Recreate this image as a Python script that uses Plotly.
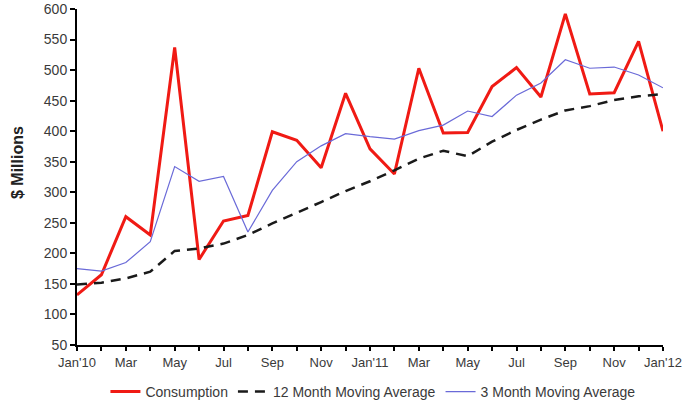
import plotly.graph_objects as go

# Monthly tick labels, Jan 2010 through Jan 2012
month_labels = ["Jan'10", "Feb", "Mar", "Apr", "May", "Jun", "Jul", "Aug", "Sep", "Oct", "Nov", "Dec",
                "Jan'11", "Feb", "Mar", "Apr", "May", "Jun", "Jul", "Aug", "Sep", "Oct", "Nov", "Dec",
                "Jan'12"]
month_index = list(range(len(month_labels)))

# Series values ($ millions)
consumption = [132, 165, 260, 230, 537, 190, 253, 262, 399, 385, 340, 462,
               371, 330, 503, 397, 398, 473, 504, 456, 592, 461, 463, 547, 400]
ma_12 = [149, 152, 159, 170, 204, 208, 216, 230, 249, 266, 284, 302,
         318, 336, 355, 368, 359, 383, 402, 419, 434, 441, 451, 457, 461]
ma_3 = [175, 171, 185, 219, 342, 318, 326, 235, 303, 350, 376, 396,
        391, 387, 401, 410, 433, 424, 459, 479, 517, 503, 505, 492, 471]

y_ticks = list(range(50, 601, 50))
# label every other month, keep a tick mark on each month
tick_text = [lab if i % 2 == 0 else "" for i, lab in enumerate(month_labels)]

font_family = "Liberation Sans, Arial, sans-serif"
text_color = "#3a3a3a"

W, H = 697, 405
M_L, M_R, M_T, M_B = 77, 34, 9, 60
plot_h = H - M_T - M_B

fig = go.Figure()
fig.add_trace(go.Scatter(
    x=month_index, y=consumption, mode="lines", name="Consumption",
    line=dict(color="#f01a14", width=3),
))
fig.add_trace(go.Scatter(
    x=month_index, y=ma_12, mode="lines", name="12 Month Moving Average",
    line=dict(color="#1a1a1a", width=2.5, dash="10px,7px"),
))
fig.add_trace(go.Scatter(
    x=month_index, y=ma_3, mode="lines", name="3 Month Moving Average",
    line=dict(color="#6a6ad8", width=1.2),
))

fig.update_layout(
    width=W, height=H,
    margin=dict(l=M_L, r=M_R, t=M_T, b=M_B, autoexpand=False),
    paper_bgcolor="white", plot_bgcolor="white",
    font=dict(family=font_family, size=13, color=text_color),
    showlegend=True,
    legend=dict(
        orientation="h", x=0.505, xanchor="center",
        y=-(392 - (H - M_B)) / plot_h, yanchor="middle",
        font=dict(size=14, color=text_color), itemwidth=30,
        traceorder="normal",
    ),
    xaxis=dict(
        range=[0, 24], tickmode="array", tickvals=month_index, ticktext=tick_text,
        showgrid=False, zeroline=False, showline=True, linecolor="black", linewidth=2,
        ticks="outside", ticklen=4, tickwidth=1.5, tickcolor="black", tickangle=0,
        tickfont=dict(size=13, color=text_color), automargin=False,
    ),
    yaxis=dict(
        range=[50, 600], tickmode="array", tickvals=y_ticks,
        showgrid=False, zeroline=False, showline=True, linecolor="black", linewidth=2,
        ticks="outside", ticklen=5, tickwidth=1.5, tickcolor="black",
        tickfont=dict(size=14, color=text_color), automargin=False,
    ),
    annotations=[dict(
        text="<b>$ Millions</b>", textangle=-90,
        xref="paper", yref="paper",
        x=-(M_L - 18) / (W - M_L - M_R), y=1 - (163 - M_T) / plot_h,
        xanchor="center", yanchor="middle", showarrow=False,
        font=dict(size=16, color="#222222"),
    )],
)

fig.write_html("out.html")
